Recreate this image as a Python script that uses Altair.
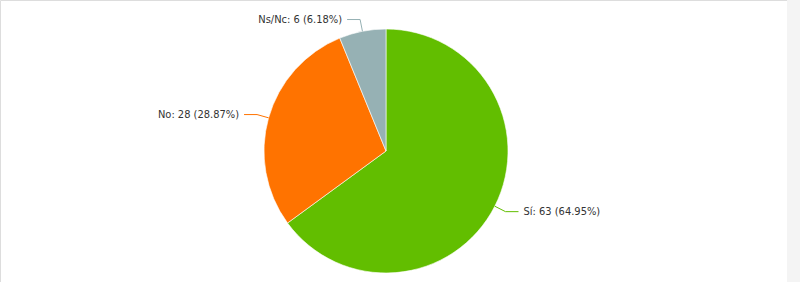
import math
import pandas as pd
import altair as alt

# ---- data ----
categories = ["Sí", "No", "Ns/Nc"]
counts = [63, 28, 6]
percents = ["64.95%", "28.87%", "6.18%"]
colors = ["#62be00", "#ff7300", "#96b1b4"]

# ---- layout constants ----
W, H = 800, 282
CX, CY = 386, 151          # pie centre in pixels
R = 122                    # pie radius
ELBOW = 134                # radius of connector elbow
HLEN = 13                  # horizontal connector length
GAP = 5                    # gap between connector and label

total = sum(counts)
rows, pts = [], []
cum = 0
for i, (c, n, p) in enumerate(zip(categories, counts, percents)):
    mid = 2 * math.pi * (cum + n / 2) / total
    cum += n
    s, co = math.sin(mid), math.cos(mid)
    side = 1 if s >= 0 else -1
    ex, ey = R * s, R * co
    bx, by = ELBOW * s, ELBOW * co
    tx = bx + side * HLEN
    pts += [
        {"cat": c, "pt": 0, "x": ex, "y": ey},
        {"cat": c, "pt": 1, "x": bx, "y": by},
        {"cat": c, "pt": 2, "x": tx, "y": by},
    ]
    rows.append({"cat": c, "idx": i, "count": n,
                 "label": f"{c}: {n} ({p})",
                 "lx": tx + side * GAP, "ly": by, "side": side})

df = pd.DataFrame(rows)
dp = pd.DataFrame(pts)

xs = alt.Scale(domain=[-CX, W - CX], range=[0, W], nice=False, zero=False)
ys = alt.Scale(domain=[-(H - CY), CY], range=[H, 0], nice=False, zero=False)
col = alt.Color("cat:N", scale=alt.Scale(domain=categories, range=colors), legend=None)

pie = alt.Chart(df).mark_arc(outerRadius=R, stroke="white", strokeWidth=0.6).encode(
    theta=alt.Theta("count:Q", stack=True),
    color=col,
    order=alt.Order("idx:Q"),
    x=alt.X(datum=0, type="quantitative", scale=xs, axis=None),
    y=alt.Y(datum=0, type="quantitative", scale=ys, axis=None),
)

conn = alt.Chart(dp).mark_line(strokeWidth=1).encode(
    x=alt.X("x:Q", scale=xs, axis=None),
    y=alt.Y("y:Q", scale=ys, axis=None),
    color=col,
    detail="cat:N",
    order=alt.Order("pt:Q"),
)

txt_common = dict(font="DejaVu Sans Condensed, DejaVu Sans", fontSize=11, color="#333333", baseline="middle")
right = alt.Chart(df).transform_filter("datum.side > 0").mark_text(align="left", **txt_common).encode(
    x=alt.X("lx:Q", scale=xs, axis=None),
    y=alt.Y("ly:Q", scale=ys, axis=None),
    text="label:N",
)
left = alt.Chart(df).transform_filter("datum.side < 0").mark_text(align="right", **txt_common).encode(
    x=alt.X("lx:Q", scale=xs, axis=None),
    y=alt.Y("ly:Q", scale=ys, axis=None),
    text="label:N",
)

strip = alt.Chart(df).mark_rect(color="#f4f4f4").encode(
    x=alt.value(787), x2=alt.value(W), y=alt.value(0), y2=alt.value(H)
)

chart = alt.layer(strip, pie, conn, right, left).properties(
    width=W, height=H, padding=0,
    autosize=alt.AutoSizeParams(type="none"),
).configure_view(strokeWidth=0, stroke="transparent").configure(background="white")

chart.save("out.html", embed_options={"renderer": "svg", "actions": False})
